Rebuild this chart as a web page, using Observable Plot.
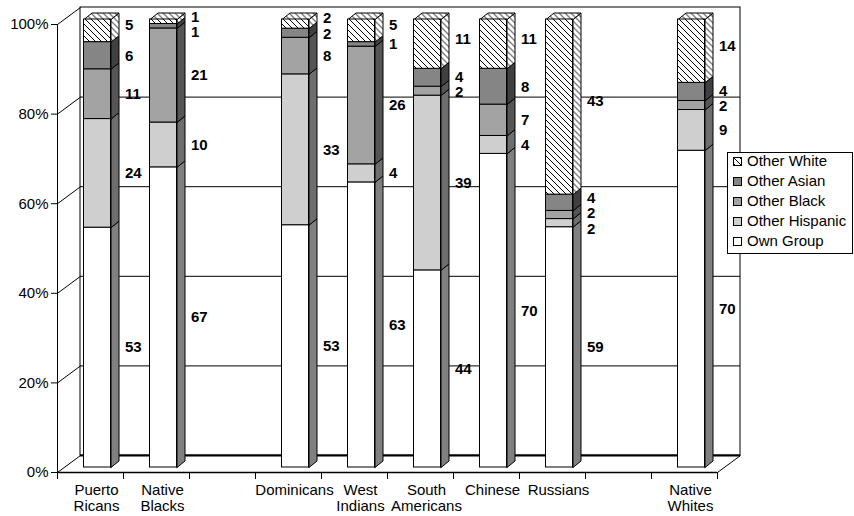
<!DOCTYPE html>
<html><head><meta charset="utf-8">
<script src="https://cdn.jsdelivr.net/npm/d3@7"></script>
<script src="https://cdn.jsdelivr.net/npm/@observablehq/plot@0.6"></script>
<style>
body{margin:0;background:#fff;font-family:"Liberation Sans",Arial,sans-serif;}
#wrap{position:relative;width:854px;height:516px;overflow:hidden;}
#legend{position:absolute;left:727px;top:152px;width:126px;height:102px;border:1px solid #000;background:#fff;box-sizing:border-box;font-size:15px;color:#000;}
#legend .row{position:absolute;left:5px;height:20px;line-height:20px;white-space:nowrap;}
#legend .sw{display:inline-block;width:9px;height:9px;vertical-align:middle;margin-right:5px;position:relative;top:-1px;}
</style></head><body>
<div id="wrap"></div>
<script>
const categories = ["Puerto Ricans","Native Blacks","","Dominicans","West Indians","South Americans","Chinese","Russians","","Native Whites"];
const seriesNames = ["Own Group","Other Hispanic","Other Black","Other Asian","Other White"];
const ownGroup      = [53, 67, null, 53, 63, 44, 70, 59, null, 70];
const otherHispanic = [24, 10, null, 33,  4, 39,  4,  2, null,  9];
const otherBlack    = [11, 21, null,  8, 26,  2,  7,  2, null,  2];
const otherAsian    = [ 6,  1, null,  2,  1,  4,  8,  4, null,  4];
const otherWhite    = [ 5,  1, null,  2,  5, 11, 11, 43, null, 14];
const yTicks = [0, 20, 40, 60, 80, 100];

const frontColors = ["#ffffff", "#cfcfcf", "#a3a3a3", "#858585", "url(#hatch)"];
const sideColors  = ["#808080", "#6e6e6e", "#555555", "#404040", "url(#hatch)"];

// projection constants (pixels -> data units)
const PX_X = 66, PX_Y = 4.48;
const WX = 23 / PX_X, WY = 17 / PX_Y;      // back wall depth
const BX = 7 / PX_X, BY = 5 / PX_Y;        // bar plane depth
const SX = 8 / PX_X, SY = 6.5 / PX_Y;      // bar thickness
const HW = 13.5 / PX_X;                    // bar half width
const GAP = 15.5 / PX_Y;                   // min label spacing
const TOPLIFT = 5.4 / PX_Y;                // top-segment label lift
const LABEL_MAX = 100 + 2.5 / PX_Y;        // highest label position

const series = [ownGroup, otherHispanic, otherBlack, otherAsian, otherWhite];
const segs = [];
categories.forEach((c, i) => {
  const vals = series.map(s => s[i]);
  if (vals.some(v => v == null)) return;
  const total = d3.sum(vals);
  let acc = 0;
  vals.forEach((v, k) => {
    const y0 = acc / total * 100; acc += v; const y1 = acc / total * 100;
    segs.push({i, k, v, y0, y1, top: k === vals.length - 1, id: i + "-" + k});
  });
});

const sidePts = [];
segs.forEach(s => {
  const xr = s.i + 0.5 + HW + BX;
  const pts = [[xr, s.y0 + BY], [xr, s.y1 + BY], [xr + SX, s.y1 + BY + SY], [xr + SX, s.y0 + BY + SY], [xr, s.y0 + BY]];
  pts.forEach(([x, y]) => sidePts.push({x, y, id: "s" + s.id, fill: sideColors[s.k]}));
});
const topPts = [];
segs.filter(s => s.top).forEach(s => {
  const xl = s.i + 0.5 - HW + BX, xr = s.i + 0.5 + HW + BX, y = s.y1 + BY;
  const pts = [[xl, y], [xl + SX, y + SY], [xr + SX, y + SY], [xr, y], [xl, y]];
  pts.forEach(([x, yy]) => topPts.push({x, y: yy, id: "t" + s.id, fill: frontColors[s.k]}));
});

const mid = s => (s.y0 + s.y1) / 2 + (s.top ? TOPLIFT : 0);
const labels = [];
d3.group(segs, d => d.i).forEach(arr => {
  let cl = arr.map(s => ({items: [s], c: mid(s)}));
  let merged = true;
  while (merged) {
    merged = false;
    for (let k = 0; k < cl.length - 1; k++) {
      const a = cl[k], b = cl[k + 1];
      const aTop = a.c + (a.items.length - 1) * GAP / 2, bBot = b.c - (b.items.length - 1) * GAP / 2;
      if (bBot - aTop < GAP) {
        const items = a.items.concat(b.items);
        cl.splice(k, 2, {items, c: d3.mean(items, mid)}); merged = true; break;
      }
    }
  }
  const last = cl[cl.length - 1];
  const over = last.c + (last.items.length - 1) * GAP / 2 - LABEL_MAX;
  if (over > 0) last.c -= over;
  cl.forEach(g => g.items.forEach((s, j) => labels.push({...s, ly: g.c + (j - (g.items.length - 1) / 2) * GAP})));
});

const wrap = document.getElementById("wrap");
wrap.insertAdjacentHTML("beforeend", `<svg width="0" height="0" style="position:absolute"><defs>
<pattern id="hatch" patternUnits="userSpaceOnUse" width="6" height="6">
<rect width="6" height="6" fill="#fff"/>
<path d="M0,0 L6,6 M-3,3 L3,9 M3,-3 L9,3" stroke="#000" stroke-width="1"/>
</pattern></defs></svg>`);

const chart = Plot.plot({
  width: 854, height: 516,
  marginLeft: 57, marginRight: 137, marginTop: 24, marginBottom: 44,
  x: {type: "linear", domain: [0, 10]},
  y: {domain: [0, 100]},
  color: {type: "identity"},
  style: {fontFamily: "'Liberation Sans', Arial, sans-serif", fontSize: "15px", color: "#000", background: "#fff", overflow: "visible"},
  marks: [
    // back wall
    Plot.rect([0], {x1: WX, x2: 10 + WX, y1: WY, y2: 100 + WY, fill: "none", stroke: "#000"}),
    Plot.ruleY(yTicks.slice(1, -1), {y: d => d + WY, x1: WX, x2: 10 + WX, stroke: "#000"}),
    Plot.ruleY([0], {y: d => d + WY, x1: WX, x2: 10 + WX, stroke: "#000", strokeWidth: 2}),
    // side wall diagonals
    Plot.link(yTicks, {x1: 0, y1: d => d, x2: WX, y2: d => d + WY, stroke: "#000"}),
    Plot.link([0], {x1: 10, y1: 0, x2: 10 + WX, y2: WY, stroke: "#000"}),
    // front floor and axis line
    Plot.ruleY([0], {x1: 0, x2: 10, stroke: "#000", strokeWidth: 1.5}),
    Plot.ruleX([0], {y1: 0, y2: 100, stroke: "#000"}),
    // bars
    Plot.line(sidePts, {x: "x", y: "y", z: "id", fill: "fill", stroke: "#000", strokeWidth: 1}),
    Plot.line(topPts, {x: "x", y: "y", z: "id", fill: "fill", stroke: "#000", strokeWidth: 1}),
    Plot.rect(segs, {x1: d => d.i + 0.5 - HW + BX, x2: d => d.i + 0.5 + HW + BX, y1: d => d.y0 + BY, y2: d => d.y1 + BY, fill: d => frontColors[d.k], stroke: "#000", strokeWidth: 1}),
    // value labels
    Plot.text(labels, {x: d => d.i + 0.5 + HW + BX, y: d => d.ly + BY, text: d => String(d.v), textAnchor: "start", dx: 14, fontWeight: "bold", fontSize: 15, fill: "#000"}),
    // axes
    Plot.axisY({ticks: yTicks, tickFormat: d => d + "%", tickSize: 6, tickPadding: 3, label: null, fontSize: 15}),
    Plot.axisX({ticks: d3.range(11), tickSize: 7, tickFormat: () => "", label: null}),
    Plot.axisX({ticks: categories.map((c, i) => i + 0.5), tickSize: 0, tickPadding: 10, dx: 6, label: null, fontSize: 15, lineHeight: 1.13,
      tickFormat: t => categories[Math.floor(t)].replace(" ", "\n")})
  ]
});
wrap.appendChild(chart);

const legend = document.createElement("div");
legend.id = "legend";
seriesNames.slice().reverse().forEach((name, j) => {
  const k = seriesNames.indexOf(name);
  const row = document.createElement("div");
  row.className = "row";
  row.style.top = (-2 + j * 20) + "px";
  row.innerHTML = `<svg class="sw" width="9" height="9"><rect x="0.5" y="0.5" width="8" height="8" fill="${frontColors[k]}" stroke="#000"/></svg>${name}`;
  legend.appendChild(row);
});
wrap.appendChild(legend);
</script>
</body></html>
